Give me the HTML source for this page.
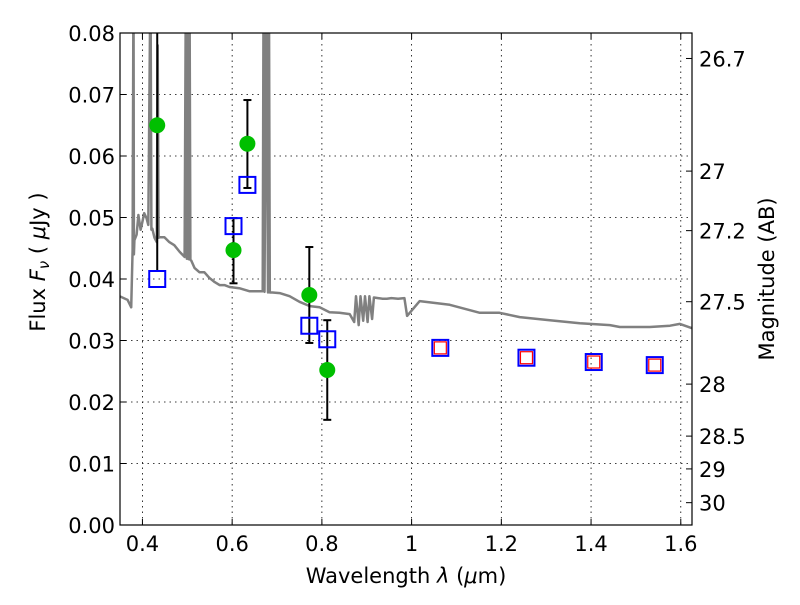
<!DOCTYPE html>
<html><head><meta charset="utf-8"><style>
body{margin:0;background:#fff;}
svg text{font-family:"DejaVu Sans","Liberation Sans",sans-serif;fill:#000;}
</style></head><body>
<svg id="chart" width="800" height="600" xmlns="http://www.w3.org/2000/svg">
<defs><clipPath id="clip"><rect x="120" y="33" width="572" height="492"/></clipPath></defs>
<g id="grid"></g>
<g id="plot" clip-path="url(#clip)"></g>
<rect x="120" y="33" width="572" height="492" fill="none" stroke="#000" stroke-width="1.2"/>
<g id="axes"></g>
<text x="406" y="583" font-size="21" text-anchor="middle">Wavelength  <tspan font-style="italic">λ</tspan> (<tspan font-style="italic">μ</tspan>m)</text>
<text transform="translate(45,262) rotate(-90)" font-size="21" text-anchor="middle">Flux  <tspan font-style="italic">F<tspan font-size="15" dy="4">ν</tspan></tspan><tspan dy="-4">  (  </tspan><tspan font-style="italic">μ</tspan>Jy )</text>
<text transform="translate(774,279) rotate(-90)" font-size="21" text-anchor="middle">Magnitude (AB)</text>
</svg>
<script>
const xTicks=[0.4,0.6,0.8,1.0,1.2,1.4,1.6];
const xTickLabels=["0.4","0.6","0.8","1","1.2","1.4","1.6"];
const yTicks=[0,0.01,0.02,0.03,0.04,0.05,0.06,0.07,0.08];
const yTickLabels=["0.00","0.01","0.02","0.03","0.04","0.05","0.06","0.07","0.08"];
const magTicks=[26.7,27,27.2,27.5,28,28.5,29,30];
const magTickLabels=["26.7","27","27.2","27.5","28","28.5","29","30"];
const specWave=[0.349,0.367,0.375,0.378,0.380,0.381,0.382,0.387,0.391,0.396,0.400,0.404,0.409,0.413,0.418,0.420,0.422,0.427,0.432,0.434,0.436,0.438,0.449,0.460,0.471,0.483,0.494,0.497,0.499,0.501,0.503,0.505,0.507,0.509,0.516,0.527,0.538,0.549,0.561,0.572,0.583,0.594,0.616,0.639,0.661,0.668,0.670,0.672,0.676,0.680,0.682,0.684,0.690,0.706,0.728,0.750,0.773,0.795,0.817,0.839,0.862,0.872,0.876,0.882,0.886,0.892,0.896,0.902,0.906,0.912,0.916,0.925,0.935,0.945,0.955,0.970,0.984,0.990,1.018,1.085,1.152,1.196,1.241,1.308,1.375,1.442,1.464,1.531,1.576,1.598,1.625];
const specFlux=[0.0372,0.0366,0.0354,0.0447,0.09,0.0440,0.0463,0.0472,0.0504,0.0480,0.0493,0.0507,0.0499,0.0488,0.09,0.0480,0.0482,0.0467,0.0460,0.078,0.0467,0.0468,0.0468,0.0460,0.0455,0.0444,0.0436,0.09,0.0433,0.09,0.0432,0.09,0.0431,0.0430,0.0418,0.0411,0.0411,0.0402,0.0395,0.0390,0.0390,0.0387,0.0385,0.0380,0.0380,0.0380,0.09,0.0379,0.09,0.0378,0.09,0.0378,0.0378,0.0377,0.0372,0.0363,0.0356,0.0354,0.0346,0.0345,0.0343,0.0330,0.0372,0.0325,0.0372,0.0332,0.0372,0.0330,0.0372,0.0335,0.0370,0.0369,0.0368,0.0368,0.0369,0.0368,0.0369,0.0340,0.0364,0.0358,0.0345,0.0345,0.0338,0.0333,0.0328,0.0325,0.0322,0.0322,0.0324,0.0327,0.0320];
const photWave=[0.433,0.634,0.603,0.772,0.812];
const photFlux=[0.0650,0.0620,0.0447,0.0374,0.0252];
const errLow=[0.0413,0.0548,0.0393,0.0296,0.0171];
const errHigh=[0.095,0.0691,0.0499,0.0452,0.0333];
const modelWave=[0.433,0.634,0.603,0.772,0.812,1.064,1.256,1.406,1.542];
const modelFlux=[0.0400,0.0553,0.0486,0.0324,0.0302,0.0288,0.0272,0.0265,0.0260];
const irWave=[1.064,1.256,1.406,1.542];
const irFlux=[0.0288,0.0272,0.0265,0.0260];

const X0=120,X1=692,Y0=525,Y1=33,xmin=0.35,xmax=1.625,ymin=0,ymax=0.08;
const sx=v=>X0+(v-xmin)/(xmax-xmin)*(X1-X0);
const sy=v=>Y0-(v-ymin)/(ymax-ymin)*(Y0-Y1);
const NS="http://www.w3.org/2000/svg";
function mk(tag,attrs,parent){const e=document.createElementNS(NS,tag);for(const k in attrs)e.setAttribute(k,attrs[k]);parent.appendChild(e);return e;}
const grid=document.getElementById('grid'),plot=document.getElementById('plot'),axes=document.getElementById('axes');

xTicks.forEach((t,i)=>{
  const x=sx(t);
  const g=mk('line',{x1:x,x2:x,y1:Y1,y2:Y0,stroke:'#000','stroke-width':0.8,'stroke-dasharray':'1.5,4'},grid);
  
  
  mk('line',{x1:x,x2:x,y1:Y0,y2:Y0-6,stroke:'#000'},axes);
  mk('line',{x1:x,x2:x,y1:Y1,y2:Y1+6,stroke:'#000'},axes);
  const tx=mk('text',{x:x,y:Y0+26,'font-size':21,'text-anchor':'middle'},axes);
  tx.textContent=xTickLabels[i];
  
  
});
yTicks.forEach((t,i)=>{
  const y=sy(t);
  const g=mk('line',{x1:X0,x2:X1,y1:y,y2:y,stroke:'#000','stroke-width':0.8,'stroke-dasharray':'1.5,4'},grid);
  
  
  mk('line',{x1:X0,x2:X0+6,y1:y,y2:y,stroke:'#000'},axes);
  const tx=mk('text',{x:X0-5,y:y+8,'font-size':21,'text-anchor':'end'},axes);
  tx.textContent=yTickLabels[i];
  
  
});
magTicks.forEach((m,i)=>{
  const y=sy(Math.pow(10,(23.9-m)/2.5));
  mk('line',{x1:X1,x2:X1-6,y1:y,y2:y,stroke:'#000'},axes);
  const tx=mk('text',{x:X1+7,y:y+8,'font-size':21},axes);
  tx.textContent=magTickLabels[i];
  
  
});

const pts=specWave.map((w,i)=>sx(w).toFixed(1)+','+sy(specFlux[i]).toFixed(1)).join(' ');
const sp=mk('polyline',{points:pts,fill:'none',stroke:'#808080','stroke-width':2.5,'stroke-linejoin':'round'},plot);



photWave.forEach((w,i)=>{
  const x=sx(w);
  const e=mk('g',{stroke:'#000','stroke-width':2},plot);
  
  
  mk('line',{x1:x,x2:x,y1:sy(errLow[i]),y2:sy(errHigh[i])},e);
  mk('line',{x1:x-4,x2:x+4,y1:sy(errLow[i]),y2:sy(errLow[i])},e);
  mk('line',{x1:x-4,x2:x+4,y1:sy(errHigh[i]),y2:sy(errHigh[i])},e);
});
modelWave.forEach((w,i)=>{
  const r=mk('rect',{x:sx(w)-8,y:sy(modelFlux[i])-8,width:16,height:16,fill:'none',stroke:'#0000ff','stroke-width':2},plot);
  
  
});
irWave.forEach((w,i)=>{
  const r=mk('rect',{x:sx(w)-6,y:sy(irFlux[i])-6,width:12,height:12,fill:'none',stroke:'#ff0000','stroke-width':1.2},plot);
  
  
});
photWave.forEach((w,i)=>{
  const c=mk('circle',{cx:sx(w),cy:sy(photFlux[i]),r:8,fill:'#00bf00'},plot);
  
  
});
</script>
</body></html>
